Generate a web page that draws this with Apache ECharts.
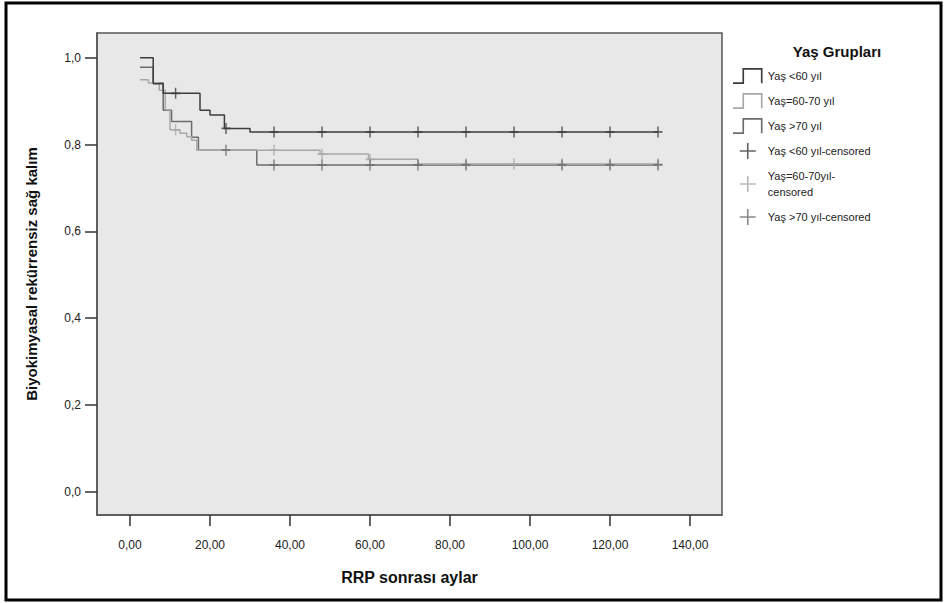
<!DOCTYPE html>
<html>
<head>
<meta charset="utf-8">
<title>Yaş Gruplarına Göre Biyokimyasal Rekürrensiz Sağ Kalım</title>
<script src="https://cdn.jsdelivr.net/npm/echarts@6/dist/echarts.min.js"></script>
<style>
  html, body { margin: 0; padding: 0; background: #ffffff; }
  #chart { width: 945px; height: 603px; }
</style>
</head>
<body>
<div id="chart"></div>
<script>
// Kaplan–Meier step points per age group: [month, survival after the step]
const groupNames = ['Yaş <60 yıl', 'Yaş=60-70 yıl', 'Yaş >70 yıl'];
const censorNames = ['Yaş <60 yıl-censored', 'Yaş=60-70yıl-\ncensored', 'Yaş >70 yıl-censored'];

const stepsUnder60 = [
  [2.5, 1.0], [5.8, 0.940], [8.3, 0.918], [17.5, 0.879], [20.0, 0.868],
  [23.6, 0.837], [30.0, 0.829], [132.0, 0.829]
];
const steps60to70 = [
  [2.5, 0.949], [4.6, 0.942], [7.3, 0.925], [8.8, 0.880], [10.0, 0.834],
  [12.5, 0.826], [14.2, 0.818], [15.4, 0.810], [16.7, 0.787], [47.5, 0.778],
  [59.6, 0.766], [72.0, 0.755], [132.0, 0.755]
];
const stepsOver70 = [
  [2.5, 0.978], [5.8, 0.942], [8.3, 0.879], [10.4, 0.853], [15.4, 0.817],
  [17.1, 0.787], [31.7, 0.753], [132.0, 0.753]
];

// Censoring times (months)
const censorUnder60 = [11.4, 24, 36, 48, 60, 72, 84, 96, 108, 120, 132];
const censor60to70 = [11.4, 36, 48, 60, 84, 96, 108, 120, 132];
const censorOver70 = [24, 36, 48, 60, 72, 84, 108, 120, 132];

// Axis tick values
const xTicks = [0, 20, 40, 60, 80, 100, 120, 140];
const yTicks = [0, 0.2, 0.4, 0.6, 0.8, 1.0];

const colors = ['#3c3c3c', '#a8a8a8', '#6c6c6c'];

// Survival value of a step curve at time t
function survivalAt(steps, t) {
  let s = steps[0][1];
  for (const [ti, si] of steps) {
    if (ti <= t) s = si; else break;
  }
  return s;
}

const stepIcon = 'path://M0,14.2H9.2V0.2H28.8V15H27.2V1.8H10.8V15.8H0Z';
const plusIcon = 'path://M9,0H11V9H20V11H11V20H9V11H0V9H9Z';
const censorMark = 'path://M4.2,0H5.8V4.2H10V5.8H5.8V10H4.2V5.8H0V4.2H4.2Z';

const stepSets = [stepsUnder60, steps60to70, stepsOver70];
const censorSets = [censorUnder60, censor60to70, censorOver70];

const series = [];
stepSets.forEach((steps, i) => {
  series.push({
    name: groupNames[i],
    type: 'line',
    step: 'end',
    data: steps,
    showSymbol: false,
    symbol: 'none',
    lineStyle: { color: colors[i], width: 1.5 },
    itemStyle: { color: colors[i] },
    z: 3 - i,
    animation: false
  });
});
censorSets.forEach((times, i) => {
  series.push({
    name: censorNames[i],
    type: 'scatter',
    data: times.map(t => [t, survivalAt(stepSets[i], t)]),
    symbol: censorMark,
    symbolSize: [9, 11],
    itemStyle: { color: colors[i] },
    z: 4,
    animation: false
  });
});

const chart = echarts.init(document.getElementById('chart'), null, { renderer: 'svg' });
chart.setOption({
  backgroundColor: '#ffffff',
  animation: false,
  title: {
    text: 'Yaş Grupları',
    left: 832,
    top: 39,
    textAlign: 'center',
    textStyle: { fontFamily: 'Liberation Sans, Arial, sans-serif', fontSize: 15, fontWeight: 'bold', color: '#111' }
  },
  legend: {
    orient: 'vertical',
    left: 728,
    top: 63,
    itemWidth: 30,
    itemHeight: 16,
    itemGap: 9,
    selectedMode: false,
    textStyle: { fontFamily: 'Liberation Sans, Arial, sans-serif', fontSize: 11, color: '#222', lineHeight: 16 },
    data: [
      { name: groupNames[0], icon: stepIcon },
      { name: groupNames[1], icon: stepIcon },
      { name: groupNames[2], icon: stepIcon },
      { name: censorNames[0], icon: plusIcon },
      { name: censorNames[1], icon: plusIcon },
      { name: censorNames[2], icon: plusIcon }
    ]
  },
  grid: {
    left: 97, top: 33, width: 625, height: 482,
    show: true, backgroundColor: '#e8e8e8', borderColor: '#555', borderWidth: 1.5,
    containLabel: false
  },
  xAxis: {
    type: 'value',
    min: -8.25, max: 148,
    name: 'RRP sonrası aylar',
    nameLocation: 'middle',
    nameGap: 54,
    nameTextStyle: { fontFamily: 'Liberation Sans, Arial, sans-serif', fontSize: 16, fontWeight: 'bold', color: '#111' },
    splitLine: { show: false },
    axisLine: { show: true, onZero: false, lineStyle: { color: '#555', width: 1.5 } },
    axisTick: { show: true, length: 11, customValues: xTicks, lineStyle: { color: '#333', width: 1.5 } },
    axisLabel: {
      customValues: xTicks, margin: 24, color: '#222',
      fontFamily: 'Liberation Sans, Arial, sans-serif', fontSize: 12,
      formatter: v => v.toFixed(2).replace('.', ',')
    }
  },
  yAxis: {
    type: 'value',
    min: -0.0537, max: 1.057,
    name: 'Biyokimyasal rekürrensiz sağ kalım',
    nameLocation: 'middle',
    nameGap: 58,
    nameTextStyle: { fontFamily: 'Liberation Sans, Arial, sans-serif', fontSize: 15, fontWeight: 'bold', color: '#111' },
    splitLine: { show: false },
    axisLine: { show: true, onZero: false, lineStyle: { color: '#555', width: 1.5 } },
    axisTick: { show: true, length: 12, customValues: yTicks, lineStyle: { color: '#333', width: 1.5 } },
    axisLabel: {
      customValues: yTicks, margin: 16, color: '#222',
      fontFamily: 'Liberation Sans, Arial, sans-serif', fontSize: 12,
      formatter: v => v.toFixed(1).replace('.', ',')
    }
  },
  graphic: [{
    type: 'rect',
    shape: { x: 6, y: 3, width: 935, height: 597 },
    style: { fill: 'none', stroke: '#000', lineWidth: 3 },
    silent: true,
    z: 100
  }],
  series: series
});
</script>
</body>
</html>
